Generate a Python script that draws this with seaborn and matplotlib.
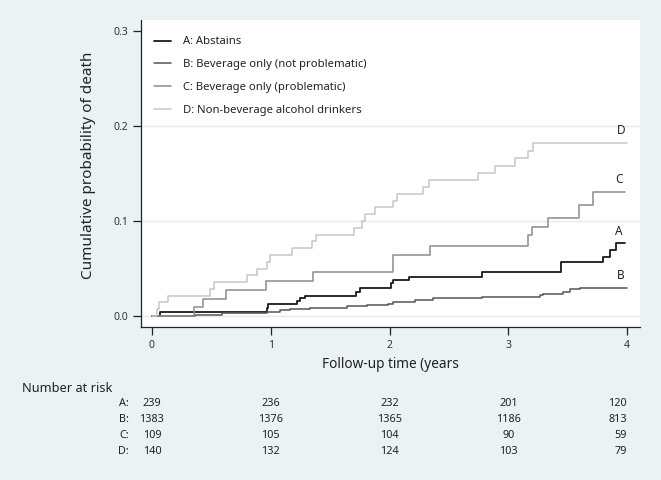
import matplotlib
matplotlib.use("Agg")
import matplotlib.pyplot as plt
import seaborn as sns
import pandas as pd

# ---- data ----
groups = ["A", "B", "C", "D"]
labels = ["A: Abstains", "B: Beverage only (not problematic)",
          "C: Beverage only (problematic)", "D: Non-beverage alcohol drinkers"]

a_t = [0, 0.07, 0.965, 0.975, 1.22, 1.25, 1.29, 1.72, 1.75, 2.01, 2.03, 2.16,
       2.78, 3.44, 3.80, 3.86, 3.91, 3.98]
a_p = [0, 0.0042, 0.0084, 0.0126, 0.0158, 0.0186, 0.0207, 0.0256, 0.029,
       0.0344, 0.0379, 0.0414, 0.0466, 0.0565, 0.0624, 0.0695, 0.0765, 0.0765]

b_t = [0, 0.362, 0.587, 0.893, 0.966, 1.078, 1.162, 1.33, 1.64, 1.81, 1.99,
       2.03, 2.215, 2.366, 2.776, 3.267, 3.29, 3.46, 3.52, 3.60, 3.99, 4.0]
b_p = [0, 0.001, 0.0028, 0.0035, 0.0045, 0.0063, 0.0074, 0.0087, 0.0105,
       0.0116, 0.0126, 0.0144, 0.0168, 0.0186, 0.0203, 0.0218, 0.0232, 0.0256,
       0.0281, 0.0292, 0.030, 0.030]

c_t = [0, 0.356, 0.427, 0.623, 0.96, 1.353, 2.027, 2.34, 3.169, 3.197, 3.337,
       3.596, 3.71, 3.98]
c_p = [0, 0.0092, 0.0183, 0.0275, 0.0367, 0.0459, 0.0642, 0.0734, 0.0851,
       0.0936, 0.1036, 0.117, 0.131, 0.131]

d_t = [0, 0.04, 0.06, 0.135, 0.49, 0.52, 0.80, 0.88, 0.966, 0.99, 1.18, 1.35,
       1.38, 1.70, 1.77, 1.79, 1.88, 2.027, 2.06, 2.28, 2.335, 2.743, 2.888,
       3.057, 3.169, 3.211, 4.0]
d_p = [0, 0.0071, 0.0143, 0.0214, 0.0286, 0.0357, 0.0429, 0.050, 0.0571,
       0.0643, 0.0714, 0.0786, 0.0857, 0.0929, 0.100, 0.1071, 0.1143, 0.1214,
       0.1286, 0.1357, 0.1429, 0.1506, 0.1584, 0.1663, 0.1742, 0.1822, 0.1822]

risk_times = [0, 1, 2, 3, 4]
risk_a = [239, 236, 232, 201, 120]
risk_b = [1383, 1376, 1365, 1186, 813]
risk_c = [109, 105, 104, 90, 59]
risk_d = [140, 132, 124, 103, 79]

x_ticks = [0, 1, 2, 3, 4]
y_ticks = [0.0, 0.1, 0.2, 0.3]

# ---- styling ----
sns.set_style("white")
plt.rcParams["font.family"] = ["Noto Sans", "DejaVu Sans"]
BG = "#EAF2F3"
colors = {"A": "#1a1a1a", "B": "#555555", "C": "#8c8c8c", "D": "#c6c6c6"}
widths = {"A": 1.3, "B": 1.1, "C": 1.1, "D": 1.1}

W, H = 661, 480
fig = plt.figure(figsize=(W / 100, H / 100), dpi=100, facecolor=BG)
L, R, T, B = 141, 640, 20, 327
ax = fig.add_axes([L / W, 1 - B / H, (R - L) / W, (B - T) / H])
ax.set_facecolor("white")

series = {"A": (a_t, a_p), "B": (b_t, b_p), "C": (c_t, c_p), "D": (d_t, d_p)}
for g, lab in zip(groups, labels):
    t, p = series[g]
    df = pd.DataFrame({"t": t, "p": p})
    sns.lineplot(data=df, x="t", y="p", ax=ax, color=colors[g], lw=widths[g],
                 drawstyle="steps-post", estimator=None, sort=False, label=lab)
    ax.text(t[-1] - 0.05, p[-1] + 0.006, g, fontsize=8.5, color="#222",
            ha="center", va="bottom", fontweight="semibold")

ax.set_xlim(-0.0926, 4.109)
ax.set_ylim(-0.01158, 0.3116)
ax.set_xticks(x_ticks)
ax.set_yticks(y_ticks)
ax.set_yticklabels([f"{v:.1f}" for v in y_ticks])
ax.grid(axis="y", color="#E2ECEF", lw=1.0)
ax.yaxis.get_gridlines()[-1].set_visible(False)
ax.set_axisbelow(True)
for s in ["top", "right"]:
    ax.spines[s].set_visible(False)
for s in ["left", "bottom"]:
    ax.spines[s].set_color("#222")
    ax.spines[s].set_linewidth(0.9)
ax.tick_params(direction="out", length=6, width=0.9, color="#222",
               labelsize=7.5, labelcolor="#333", pad=3, left=True, bottom=True)

ax.set_xlabel("Follow-up time (years", fontsize=9.8, color="#222")
ax.xaxis.set_label_coords((390 - L) / (R - L), (B - 357) / (B - T))
ax.set_ylabel("Cumulative probability of death", fontsize=11, color="#222")
ax.yaxis.set_label_coords((96 - L) / (R - L), (B - 165) / (B - T))

leg = ax.legend(loc="upper left", bbox_to_anchor=(0.01, 0.972), frameon=False,
                fontsize=8.1, handlelength=1.5, handletextpad=1.1,
                labelspacing=1.05, borderaxespad=0.3)
for txt in leg.get_texts():
    txt.set_color("#222")

# ---- number at risk table ----
fig.text(22 / W, 1 - 389 / H, "Number at risk", fontsize=9.2, color="#222",
         ha="left", va="center")
row_y = [404, 420, 436, 452]
for g, vals, yy in zip(groups, [risk_a, risk_b, risk_c, risk_d], row_y):
    fig.text(129 / W, 1 - yy / H, g + ":", fontsize=7.8, color="#222",
             ha="right", va="center")
    for tt, v in zip(risk_times, vals):
        xf = ax.transData.transform((tt, 0))[0] / W
        fig.text(xf, 1 - yy / H, str(v), fontsize=7.8, color="#222",
                 ha="center" if tt < 4 else "right", va="center")

fig.savefig("out.png", dpi=100, facecolor=BG)
